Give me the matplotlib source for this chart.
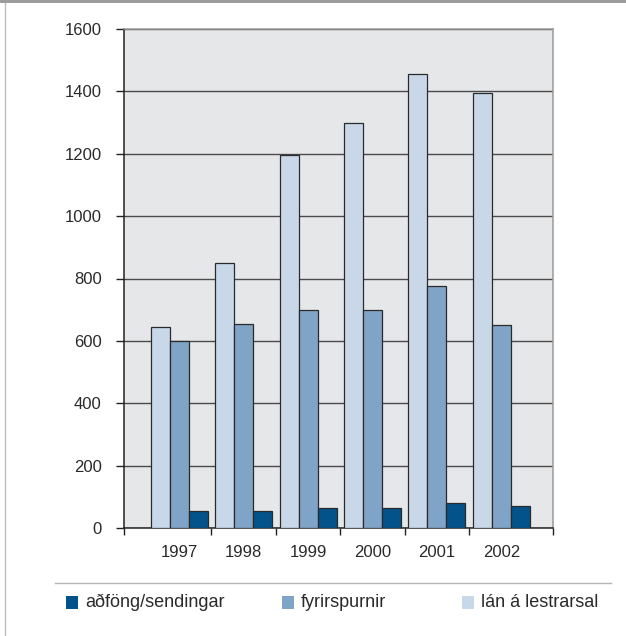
import matplotlib
matplotlib.use("Agg")
import matplotlib.pyplot as plt
from matplotlib.patches import Rectangle
from matplotlib.lines import Line2D
import numpy as np

years = ["1997", "1998", "1999", "2000", "2001", "2002"]
lan_a_lestrarsal = [645, 850, 1195, 1300, 1455, 1395]
fyrirspurnir = [600, 655, 700, 700, 775, 650]
adfong_sendingar = [55, 55, 65, 65, 80, 70]
series_labels = ["aðföng/sendingar", "fyrirspurnir", "lán á lestrarsal"]
y_ticks = [0, 200, 400, 600, 800, 1000, 1200, 1400, 1600]

c_light = "#C9D8E9"
c_med = "#80A4C8"
c_dark = "#03538A"
txt = "#2A2A2A"

plt.rcParams['font.family'] = ['Liberation Sans', 'DejaVu Sans']

W, H = 626, 636
fig = plt.figure(figsize=(W / 100, H / 100), dpi=100)
ax = fig.add_axes([124 / W, 1 - 528 / H, (553 - 124) / W, (528 - 29) / H])
ax.set_facecolor("#E6E7E8")

x = np.arange(len(years))
bw = 0.295
ax.bar(x - bw, lan_a_lestrarsal, bw, color=c_light, edgecolor="#2a2a2a", linewidth=0.9, zorder=3)
ax.bar(x, fyrirspurnir, bw, color=c_med, edgecolor="#2a2a2a", linewidth=0.9, zorder=3)
ax.bar(x + bw, adfong_sendingar, bw, color=c_dark, edgecolor="#2a2a2a", linewidth=0.9, zorder=3)

x0, x1 = -0.855, 5.80
ax.set_xlim(x0, x1)
ax.set_ylim(0, 1600)

ax.set_yticks(y_ticks)
ax.set_yticklabels([str(v) for v in y_ticks], fontsize=12, color=txt)
ax.yaxis.grid(True, color="#4a4a4a", linewidth=1.0, zorder=1)
ax.set_axisbelow(True)

# category boundary ticks (major), labels at group centres (minor)
ax.set_xticks([x0] + list(x[:-1] + 0.5) + [x1])
ax.set_xticklabels([])
ax.set_xticks(x, minor=True)
ax.set_xticklabels(years, minor=True, fontsize=12, color=txt)
ax.tick_params(axis="x", which="minor", length=0, pad=12)
ax.tick_params(axis="x", which="major", length=5, width=1, color="#222222", direction="out")
ax.tick_params(axis="y", length=6, width=1, color="#222222", pad=10)

for s in ["left", "bottom"]:
    ax.spines[s].set_color("#222222")
    ax.spines[s].set_linewidth(1.1)
for s in ["top", "right"]:
    ax.spines[s].set_color("#9a9a9a")
    ax.spines[s].set_linewidth(1.1)

# figure decorations: top band, left border, separator line
fig.add_artist(Rectangle((0, 1 - 3 / H), 1, 3 / H, transform=fig.transFigure,
                         facecolor="#9c9c9c", edgecolor="none"))
fig.add_artist(Line2D([4.5 / W, 4.5 / W], [0, 1 - 3 / H], transform=fig.transFigure,
                      color="#bdbdbd", linewidth=1))
fig.add_artist(Line2D([55 / W, 611 / W], [1 - 583 / H, 1 - 583 / H], transform=fig.transFigure,
                      color="#b5b5b5", linewidth=1))

# legend entries
leg_colors = [c_dark, c_med, c_light]
sq_x = [66, 282, 462]
for lbl, col, sx in zip(series_labels, leg_colors, sq_x):
    fig.add_artist(Rectangle((sx / W, 1 - 609 / H), 12 / W, 13 / H, transform=fig.transFigure,
                             facecolor=col, edgecolor="none"))
    fig.text((sx + 19) / W, 1 - 602.5 / H, lbl, fontsize=13, color=txt, va="center", ha="left")

fig.savefig("out.png", dpi=100, facecolor="white")
